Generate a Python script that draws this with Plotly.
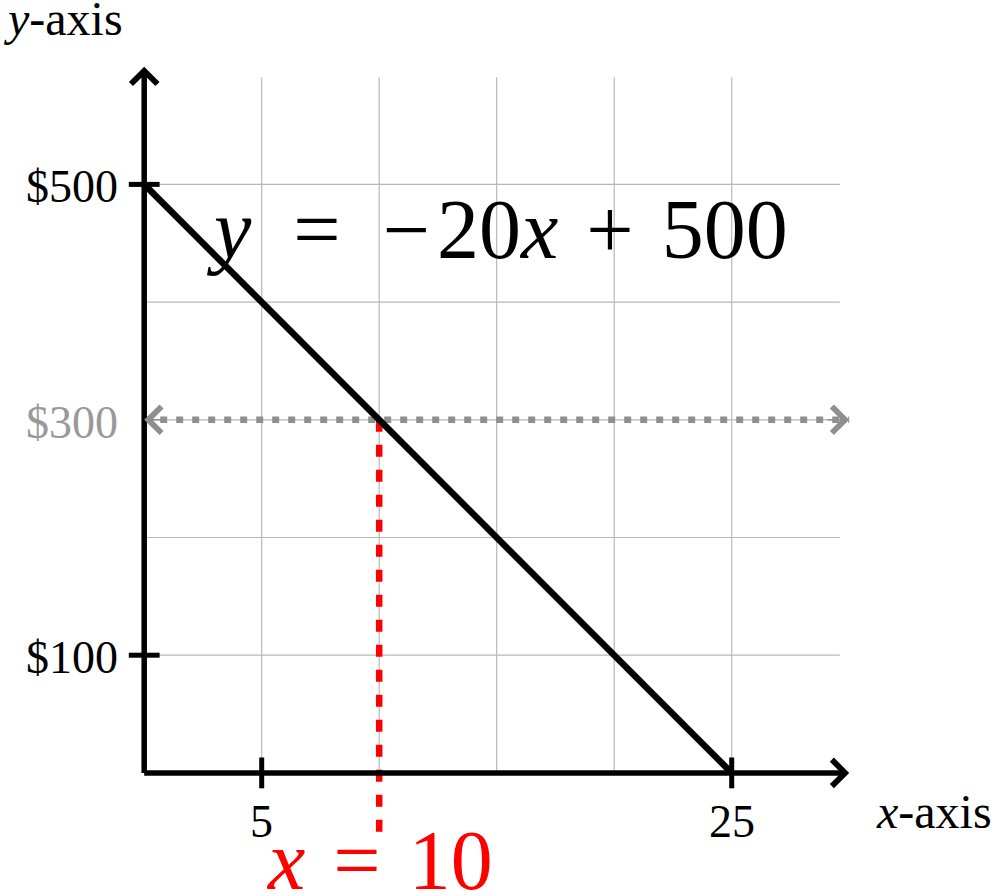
import plotly.graph_objects as go

# ---- data ----
line_x = [0, 25]          # y = -20x + 500
line_y = [500, 0]
grid_x = [5, 10, 15, 20, 25]
grid_y = [100, 200, 300, 400, 500]
grid_xmax = 29.6
grid_ymax = 591
axis_xmax = 30
axis_ymax = 600
x_ticks = [5, 25]
x_tick_labels = ["5", "25"]
y_ticks = [100, 500]
y_tick_labels = ["$100", "$500"]
hl_x = 10
hl_y = 300
hl_y_label = "$300"
red_bottom = -50
equation = "<i>y</i>\u2002=\u2002\u2212\u200a20<i>x</i>\u2004+\u2004500"
x_eq = "<i>x</i>\u2004=\u200410"

# pixel geometry -> data ranges
W, H = 1000, 896
ox, oy = 144.2, 772.9
sx, sy = 23.5, 1.177
xr = [-ox / sx, (W - ox) / sx]
yr = [-(H - oy) / sy, oy / sy]

FONT = "Liberation Serif"
GRID = "#b8b8b8"
GRAY = "#8f8f8f"

fig = go.Figure()

# grid
gx, gy = [], []
for v in grid_x:
    gx += [v, v, None]
    gy += [0, grid_ymax, None]
for v in grid_y:
    gx += [0, grid_xmax, None]
    gy += [v, v, None]
fig.add_trace(go.Scatter(x=gx, y=gy, mode="lines", line=dict(color=GRID, width=1.2), hoverinfo="skip"))

# gray dotted horizontal
fig.add_trace(go.Scatter(x=[0, axis_xmax], y=[hl_y, hl_y], mode="lines",
                         line=dict(color=GRAY, width=6.5, dash="7px,9px"), hoverinfo="skip"))

# red dashed vertical
fig.add_trace(go.Scatter(x=[hl_x, hl_x], y=[hl_y, red_bottom], mode="lines",
                         line=dict(color="#ff0000", width=6.5, dash="12px,13px"), hoverinfo="skip"))

# axes
fig.add_trace(go.Scatter(x=[0, axis_xmax - 0.3, None, 0, 0], y=[0, 0, None, 0, axis_ymax - 6],
                         mode="lines", line=dict(color="black", width=5.5), hoverinfo="skip"))

# main line
fig.add_trace(go.Scatter(x=line_x, y=line_y, mode="lines",
                         line=dict(color="black", width=6.5), hoverinfo="skip"))

# ticks
fig.add_trace(go.Scatter(x=x_ticks, y=[0] * len(x_ticks), mode="markers",
                         marker=dict(symbol="line-ns", size=22, line=dict(color="black", width=5)),
                         hoverinfo="skip"))
fig.add_trace(go.Scatter(x=[0] * len(y_ticks), y=y_ticks, mode="markers",
                         marker=dict(symbol="line-ew", size=22, line=dict(color="black", width=5)),
                         hoverinfo="skip"))

ann = []
def arrow(x, y, ax, ay, color):
    ann.append(dict(x=x, y=y, ax=ax, ay=ay, xref="x", yref="y", axref="x", ayref="y",
                    text="", showarrow=True, arrowhead=4, arrowwidth=1.5, arrowsize=3.4,
                    arrowcolor=color, standoff=0))

arrow(axis_xmax, 0, axis_xmax - 1, 0, "black")
arrow(0, axis_ymax, 0, axis_ymax - 20, "black")
arrow(axis_xmax, hl_y, axis_xmax - 1, hl_y, GRAY)
arrow(0, hl_y, 1, hl_y, GRAY)

def label(x, y, text, size, color="black", xanchor="center", yanchor="middle"):
    ann.append(dict(x=x, y=y, xref="x", yref="y", text=text, showarrow=False,
                    font=dict(family=FONT, size=size, color=color),
                    xanchor=xanchor, yanchor=yanchor))

for v, t in zip(x_ticks, x_tick_labels):
    label(v, -41, t, 46)
for v, t in zip(y_ticks, y_tick_labels):
    label(-1.05, v - 2, t, 46, xanchor="right")
label(-1.05, hl_y - 2, hl_y_label, 46, color="#999999", xanchor="right")
label(33.6, -33, "<i>x</i>-axis", 48)
label(-3.45, 641, "<i>y</i>-axis", 48)
label(15.0, 462, equation, 84)
label(10.0, -74, x_eq, 84, color="#ff0000")

fig.update_layout(
    width=W, height=H, margin=dict(l=0, r=0, t=0, b=0),
    paper_bgcolor="white", plot_bgcolor="white", showlegend=False,
    xaxis=dict(range=xr, visible=False, fixedrange=True),
    yaxis=dict(range=yr, visible=False, fixedrange=True),
    annotations=ann,
)
fig.write_html("out.html", config={"displayModeBar": False},
               post_script="document.body.style.margin='0';")
